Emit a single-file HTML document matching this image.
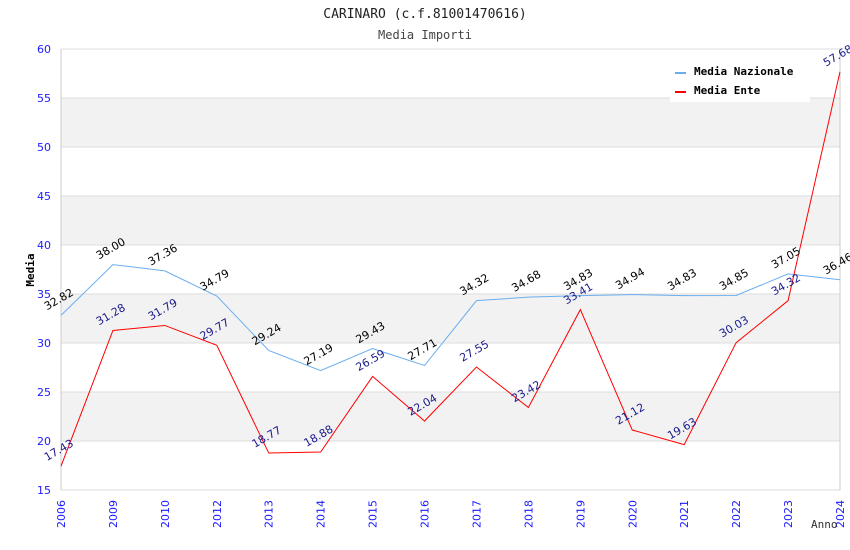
<!DOCTYPE html>
<html><head><meta charset="utf-8"><style>
body{margin:0;background:#fff;}
svg{display:block;font-family:"DejaVu Sans","Liberation Sans",sans-serif;}
</style></head><body>
<svg id="c" width="850" height="550">
<text x="425" y="18" text-anchor="middle" font-size="13" font-family="DejaVu Sans Mono,monospace" fill="#222">CARINARO (c.f.81001470616)</text>
<text x="425" y="39" text-anchor="middle" font-size="12" font-family="DejaVu Sans Mono,monospace" fill="#444">Media Importi</text>
<g id="grid"></g><g id="lines"></g><g id="labels"></g>
<text transform="translate(34,270) rotate(-90)" text-anchor="middle" font-size="11" font-weight="bold" font-family="DejaVu Sans Mono,monospace">Media</text>
<text x="811" y="528" font-size="11" font-family="DejaVu Sans Mono,monospace" fill="#333">Anno</text>
<g>
<rect x="670" y="60" width="140" height="42" fill="#fff"/>
<rect x="675" y="72" width="11" height="2" fill="#6aaef0"/>
<text x="694" y="75" font-size="11" font-weight="bold" font-family="DejaVu Sans Mono,monospace">Media Nazionale</text>
<rect x="675" y="91" width="11" height="2" fill="#f00"/>
<text x="694" y="94" font-size="11" font-weight="bold" font-family="DejaVu Sans Mono,monospace">Media Ente</text>
</g>
</svg>
<script>
const categories=["2006","2009","2010","2012","2013","2014","2015","2016","2017","2018","2019","2020","2021","2022","2023","2024"];
const nazionale=[32.82,38.00,37.36,34.79,29.24,27.19,29.43,27.71,34.32,34.68,34.83,34.94,34.83,34.85,37.05,36.46];
const ente=[17.43,31.28,31.79,29.77,18.77,18.88,26.59,22.04,27.55,23.42,33.41,21.12,19.63,30.03,34.32,57.68];
const yTicks=[15,20,25,30,35,40,45,50,55,60];
const L=61,R=840,T=49,B=490,NS="http://www.w3.org/2000/svg";
const x=i=>L+i*(R-L)/(categories.length-1);
const y=v=>B-(v-15)*(B-T)/45;
function mk(t,a,p){const e=document.createElementNS(NS,t);for(const k in a)e.setAttribute(k,a[k]);p.appendChild(e);return e;}
const g=document.getElementById('grid');
for(let i=0;i<yTicks.length-1;i++){if(yTicks[i]%10==0){const r=mk('rect',{x:L,y:y(yTicks[i+1]),width:R-L,height:y(yTicks[i])-y(yTicks[i+1]),fill:'#f2f2f2'},g);

}}
yTicks.forEach(v=>{const l=mk('line',{x1:L,x2:R,y1:y(v),y2:y(v),stroke:'#ddd'},g);


const t=mk('text',{x:L-10,y:y(v)+4,'text-anchor':'end','font-size':11,fill:'#1a1aff'},g);t.textContent=v;

});
mk('line',{x1:L,x2:L,y1:T,y2:B,stroke:'#ccc'},g);mk('line',{x1:R,x2:R,y1:T,y2:B,stroke:'#ccc'},g);
categories.forEach((c,i)=>{const t=mk('text',{transform:`translate(${x(i)+4},${528}) rotate(-90)`,'font-size':11,fill:'#1a1aff'},g);t.textContent=c;

});
const lg=document.getElementById('lines'),lb=document.getElementById('labels');
[[nazionale,'#6aaef0','#000','line-nazionale'],[ente,'#f00','#1a1a8c','line-ente']].forEach(([d,col,tc,nm])=>{
const p=mk('polyline',{points:d.map((v,i)=>x(i)+','+y(v)).join(' '),fill:'none',stroke:col,'stroke-width':1},lg);


d.forEach((v,i)=>{const t=mk('text',{transform:`translate(${x(i)-14},${y(v)-5}) rotate(-30)`,'font-size':11,fill:tc},lb);t.textContent=v.toFixed(2);

});});
</script>
</body></html>
